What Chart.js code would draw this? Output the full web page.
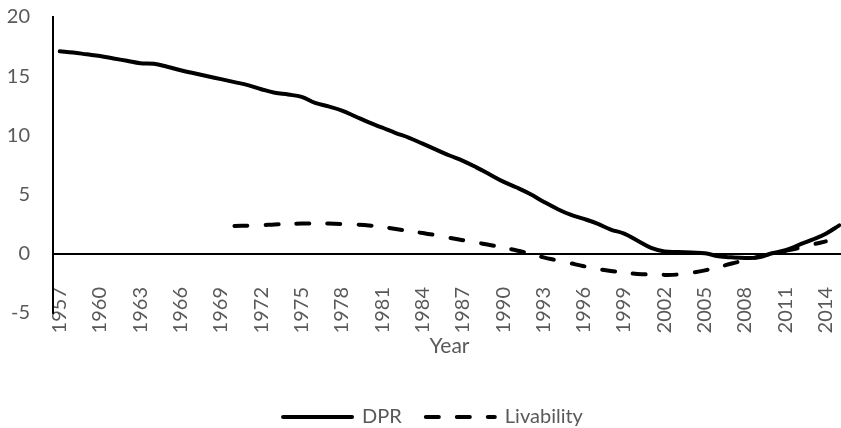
<!DOCTYPE html>
<html>
<head>
<meta charset="utf-8">
<script src="https://cdn.jsdelivr.net/npm/chart.js@4/dist/chart.umd.min.js"></script>
<style>
html, body { margin: 0; padding: 0; overflow: hidden; background: #fff; width: 841px; height: 428px; }
#wrap { width: 847px; height: 428px; }
</style>
</head>
<body>
<div id="wrap"><canvas id="c" width="847" height="428"></canvas></div>
<script>
const years = [];
for (let y = 1957; y <= 2015; y++) years.push(String(y));

const xTickLabels = ['1957','1960','1963','1966','1969','1972','1975','1978','1981','1984','1987','1990','1993','1996','1999','2002','2005','2008','2011','2014'];
const yTicks = [-5, 0, 5, 10, 15, 20];

const dpr = [
  17.1, 17.0, 16.85, 16.7, 16.5, 16.3, 16.1, 16.05, 15.8, 15.5,
  15.25, 15.0, 14.75, 14.5, 14.25, 13.9, 13.6, 13.45, 13.25, 12.75,
  12.45, 12.1, 11.6, 11.1, 10.65, 10.2, 9.8, 9.3, 8.8, 8.3,
  7.85, 7.3, 6.7, 6.1, 5.6, 5.05, 4.4, 3.8, 3.3, 2.95,
  2.55, 2.05, 1.7, 1.1, 0.5, 0.2, 0.15, 0.1, 0.05, -0.2,
  -0.3, -0.35, -0.3, 0.05, 0.3, 0.75, 1.2, 1.7, 2.4
];

const livability = [
  null, null, null, null, null, null, null, null, null, null, null, null, null,
  2.35, 2.38, 2.42, 2.48, 2.52, 2.55, 2.56, 2.55, 2.52, 2.47,
  2.4, 2.27, 2.1, 1.92, 1.75, 1.57, 1.35, 1.15, 0.95, 0.75,
  0.52, 0.28, 0.0, -0.3, -0.55, -0.8, -1.05, -1.28, -1.45, -1.6,
  -1.7, -1.75, -1.78, -1.75, -1.6, -1.4, -1.12, -0.82, -0.55, -0.25,
  0.0, 0.25, 0.5, 0.78, 1.05,
  null
];

const seriesNames = ['DPR', 'Livability'];
const FONT = 'Lato, "Open Sans", sans-serif';
const GREY = '#595959';

const legendShift = {
  id: 'legendShift',
  afterLayout(chart) {
    if (chart.legend) { chart.legend.left += 10; chart.legend.right += 10; }
  }
};

new Chart(document.getElementById('c'), {
  type: 'line',
  data: {
    labels: years,
    datasets: [
      {
        label: seriesNames[0],
        data: dpr,
        borderColor: '#000',
        backgroundColor: '#000',
        borderWidth: 4,
        borderCapStyle: 'round',
        borderJoinStyle: 'round',
        pointRadius: 0,
        tension: 0.4,
        fill: false
      },
      {
        label: seriesNames[1],
        data: livability,
        borderColor: '#000',
        backgroundColor: '#000',
        borderWidth: 4,
        borderDash: [13, 18],
        borderCapStyle: 'round',
        borderJoinStyle: 'round',
        pointRadius: 0,
        tension: 0.4,
        fill: false,
        spanGaps: false
      }
    ]
  },
  plugins: [legendShift],
  options: {
    responsive: false,
    animation: false,
    layout: { padding: { top: 17, right: 1, bottom: -9, left: 0 } },
    plugins: {
      tooltip: { enabled: false },
      legend: {
        position: 'bottom',
        labels: {
          usePointStyle: true,
          pointStyle: 'line',
          pointStyleWidth: 69,
          padding: 24,
          color: GREY,
          font: { family: FONT, size: 20 },
          generateLabels: function (chart) {
            const base = Chart.defaults.plugins.legend.labels.generateLabels(chart);
            return base.map(function (item, i) {
              const ds = chart.data.datasets[i];
              item.lineDash = ds.borderDash || [];
              item.lineWidth = ds.borderWidth;
              item.lineCap = 'round';
              item.strokeStyle = ds.borderColor;
              item.fillStyle = ds.borderColor;
              item.pointStyle = 'line';
              return item;
            });
          }
        }
      }
    },
    scales: {
      x: {
        type: 'category',
        offset: true,
        grid: { display: false, drawTicks: false },
        border: { display: false },
        ticks: {
          autoSkip: false,
          maxRotation: 90,
          minRotation: 90,
          mirror: true,
          padding: 26,
          color: GREY,
          font: { family: FONT, size: 20, lineHeight: 0.01 },
          callback: function (val, i) {
            const lab = years[i];
            return xTickLabels.includes(lab) ? lab : '';
          }
        },
        title: {
          display: true,
          text: 'Year',
          color: GREY,
          font: { family: FONT, size: 21 },
          padding: { top: 0, bottom: 24 }
        },
        afterFit: function (s) { s.height = 70; s.paddingLeft = 0; s.paddingRight = 0; }
      },
      y: {
        min: -5,
        max: 20,
        afterBuildTicks: function (s) { s.ticks = yTicks.map(v => ({ value: v })); },
        grid: {
          drawTicks: false,
          color: function (ctx) { return ctx.tick && ctx.tick.value === 0 ? '#000' : 'rgba(0,0,0,0)'; },
          lineWidth: 2
        },
        border: { display: true, color: '#000', width: 2 },
        ticks: {
          padding: 23,
          color: GREY,
          font: { family: FONT, size: 20 }
        },
        afterFit: function (s) { s.width = 53; s.paddingTop = 0; s.paddingBottom = 0; }
      }
    }
  }
});
</script>
</body>
</html>
